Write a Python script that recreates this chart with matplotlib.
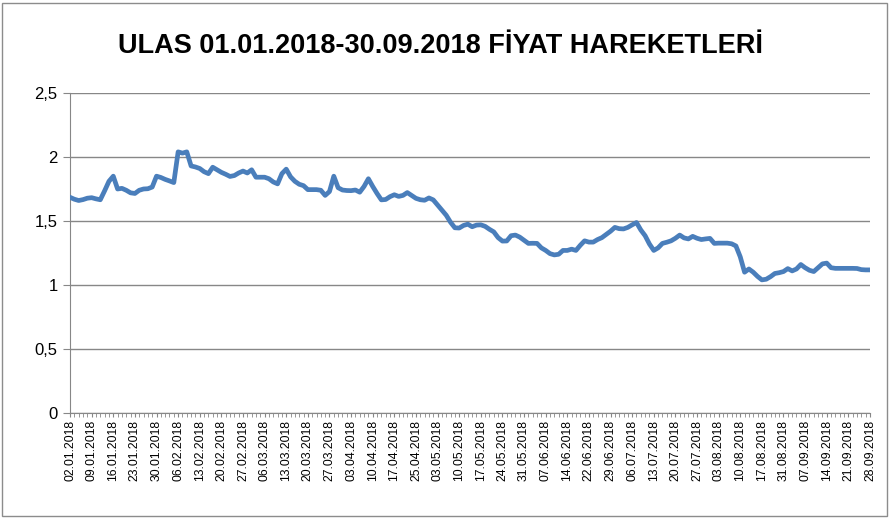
import matplotlib
matplotlib.use('Agg')
import matplotlib.pyplot as plt
from matplotlib.patches import Rectangle

title = 'ULAS 01.01.2018-30.09.2018 FİYAT HAREKETLERİ'

# etiketler (her 5 islem gununde bir)
tick_labels = ['02.01.2018', '09.01.2018', '16.01.2018', '23.01.2018', '30.01.2018',
               '06.02.2018', '13.02.2018', '20.02.2018', '27.02.2018', '06.03.2018',
               '13.03.2018', '20.03.2018', '27.03.2018', '03.04.2018', '10.04.2018',
               '17.04.2018', '25.04.2018', '03.05.2018', '10.05.2018', '17.05.2018',
               '24.05.2018', '31.05.2018', '07.06.2018', '14.06.2018', '22.06.2018',
               '29.06.2018', '06.07.2018', '13.07.2018', '20.07.2018', '27.07.2018',
               '03.08.2018', '10.08.2018', '17.08.2018', '31.08.2018', '07.09.2018',
               '14.09.2018', '21.09.2018', '28.09.2018']

# kapanis fiyatlari
prices = [1.685, 1.67, 1.66, 1.667, 1.678, 1.682, 1.673, 1.666, 1.736, 1.81,
          1.85, 1.75, 1.755, 1.74, 1.72, 1.715, 1.74, 1.75, 1.752, 1.765,
          1.85, 1.84, 1.825, 1.813, 1.80, 2.04, 2.03, 2.04, 1.93, 1.922,
          1.91, 1.885, 1.87, 1.92, 1.90, 1.88, 1.865, 1.848, 1.855, 1.875,
          1.89, 1.875, 1.90, 1.842, 1.842, 1.842, 1.83, 1.805, 1.79, 1.87,
          1.905, 1.845, 1.81, 1.787, 1.776, 1.745, 1.745, 1.745, 1.74, 1.70,
          1.73, 1.85, 1.76, 1.742, 1.738, 1.737, 1.742, 1.725, 1.77, 1.83,
          1.77, 1.715, 1.665, 1.668, 1.69, 1.705, 1.692, 1.70, 1.722, 1.70,
          1.677, 1.666, 1.662, 1.68, 1.665, 1.625, 1.585, 1.545, 1.49, 1.447,
          1.445, 1.465, 1.475, 1.455, 1.468, 1.47, 1.458, 1.435, 1.415, 1.37,
          1.343, 1.344, 1.385, 1.39, 1.374, 1.35, 1.325, 1.326, 1.325, 1.29,
          1.27, 1.245, 1.235, 1.24, 1.27, 1.27, 1.28, 1.27, 1.31, 1.345,
          1.335, 1.335, 1.355, 1.37, 1.395, 1.42, 1.45, 1.44, 1.438, 1.45,
          1.47, 1.488, 1.43, 1.385, 1.32, 1.27, 1.29, 1.325, 1.334, 1.345,
          1.365, 1.39, 1.368, 1.36, 1.38, 1.365, 1.355, 1.36, 1.364, 1.325,
          1.327, 1.327, 1.327, 1.322, 1.305, 1.22, 1.10, 1.125, 1.10, 1.067,
          1.04, 1.045, 1.065, 1.09, 1.096, 1.105, 1.128, 1.11, 1.125, 1.16,
          1.135, 1.115, 1.105, 1.135, 1.165, 1.171, 1.135, 1.13, 1.13, 1.13,
          1.13, 1.13, 1.129, 1.12, 1.118, 1.118]

y_ticks = [0, 0.5, 1, 1.5, 2, 2.5]
y_labels = ['0', '0,5', '1', '1,5', '2', '2,5']

plt.rcParams['font.family'] = ['Liberation Sans', 'DejaVu Sans']

fig = plt.figure(figsize=(8.91, 5.18), dpi=100)
ax = fig.add_axes([0.0786, 0.2027, 0.8978, 0.6178])

x = list(range(len(prices)))
ax.plot(x, prices, color='#4a7ebb', lw=3.4, solid_joinstyle='round', zorder=3)

ax.set_xlim(0, len(prices) - 1)
ax.set_ylim(0, 2.5)

ax.set_yticks(y_ticks)
ax.set_yticklabels(y_labels, fontsize=12)
ax.set_xticks(range(0, len(prices), 5))
ax.set_xticklabels(tick_labels, rotation=90, fontsize=8.8)
ax.set_xticks(x, minor=True)

ax.grid(axis='y', color='#878787', lw=1)
ax.set_axisbelow(True)
for s in ['top', 'right']:
    ax.spines[s].set_visible(False)
for s in ['left', 'bottom']:
    ax.spines[s].set_color('#878787')
ax.tick_params(axis='y', length=5, color='#878787', pad=4)
ax.tick_params(axis='x', which='both', length=3, color='#878787', pad=2)

fig.text(0.494, 0.912, title, ha='center', va='center', fontsize=19.5, fontweight='bold')

fig.patches.append(Rectangle((0.002, 0.004), 0.994, 0.99, transform=fig.transFigure,
                             fill=False, edgecolor='#8c8c8c', lw=1))

fig.savefig('out.png', dpi=100)
